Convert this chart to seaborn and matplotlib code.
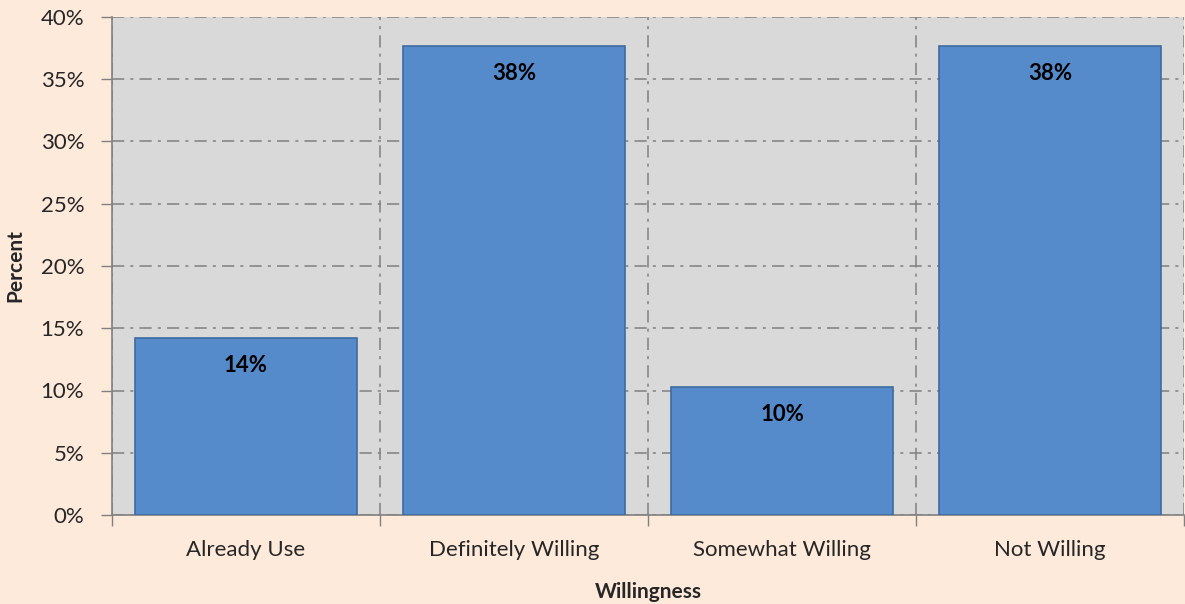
import matplotlib
matplotlib.use("Agg")
import matplotlib.pyplot as plt
import seaborn as sns
import pandas as pd
from matplotlib.ticker import FuncFormatter, FixedLocator

# chart data
categories = ["Already Use", "Definitely Willing", "Somewhat Willing", "Not Willing"]
percents = [14.2, 37.7, 10.3, 37.7]
value_labels = ["14%", "38%", "10%", "38%"]
y_ticks = [0, 5, 10, 15, 20, 25, 30, 35, 40]

df = pd.DataFrame({"Willingness": categories, "Percent": percents})

sns.set_theme(style="white")
plt.rcParams["font.family"] = ["Lato", "DejaVu Sans"]

fig = plt.figure(figsize=(11.85, 6.04), dpi=100, facecolor="#FDEADA")
ax = fig.add_axes([112 / 1185, 89 / 604, 1072 / 1185, 498 / 604])
ax.set_facecolor("#D9D9D9")

sns.barplot(data=df, x="Willingness", y="Percent", color="#558ACB",
            saturation=1, width=0.83, edgecolor="#3F6B9F", linewidth=1.2,
            ax=ax, zorder=3)

for patch, txt in zip(ax.patches, value_labels):
    x = patch.get_x() + patch.get_width() / 2
    ax.annotate(txt, (x, patch.get_height()), xytext=(0, -20),
                textcoords="offset points", ha="center", va="center",
                fontsize=16, fontweight="bold", color="black", zorder=4)

ax.set_xlim(-0.5, len(categories) - 0.5)
ax.set_ylim(0, 40)
ax.yaxis.set_major_locator(FixedLocator(y_ticks))
ax.yaxis.set_major_formatter(FuncFormatter(lambda v, p: f"{v:.0f}%"))
ax.xaxis.set_minor_locator(FixedLocator([i - 0.5 for i in range(len(categories) + 1)]))

grid_kw = dict(color="#808080", linestyle=(0, (8, 4, 2, 4)), linewidth=1.1)
ax.grid(True, axis="y", which="major", **grid_kw, zorder=1)
ax.grid(True, axis="x", which="minor", **grid_kw, zorder=1)
ax.set_axisbelow(True)

ax.tick_params(axis="y", which="major", length=8, width=1, color="#808080",
               labelsize=16, pad=12, left=True)
ax.tick_params(axis="x", which="major", length=0, labelsize=16, pad=18)
ax.tick_params(axis="x", which="minor", length=8, width=1, color="#808080", bottom=True)

for side in ["top", "right"]:
    ax.spines[side].set_visible(False)
for side in ["left", "bottom"]:
    ax.spines[side].set_color("#808080")
    ax.spines[side].set_linewidth(1.2)

ax.set_xlabel("Willingness", fontsize=15, fontweight="bold", labelpad=16)
ax.set_ylabel("Percent", fontsize=15, fontweight="bold", labelpad=11)

fig.savefig("out.png", dpi=100, facecolor=fig.get_facecolor())
plt.close(fig)
